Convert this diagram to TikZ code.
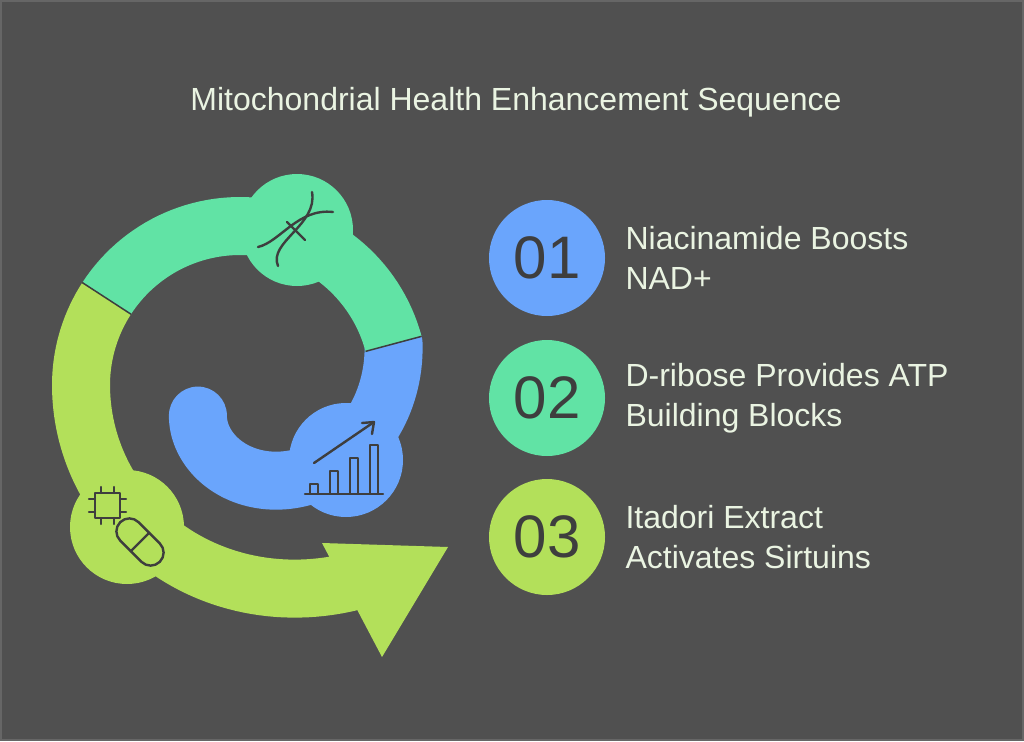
\documentclass[tikz,border=0pt]{standalone}
\usepackage{fontspec}
\setmainfont{Liberation Sans}
\definecolor{bg}{HTML}{505050}
\definecolor{cblue}{HTML}{6AA5FC}
\definecolor{cgreen}{HTML}{61E3A5}
\definecolor{clime}{HTML}{B3E05A}
\definecolor{ink}{HTML}{3E3E3E}
\definecolor{txt}{HTML}{EAF4E2}
\begin{document}
\begin{tikzpicture}[x=1pt,y=-1pt,
  icon/.style={draw=ink,line width=2.4pt,line cap=round,line join=round},
  numc/.style={circle,minimum size=116pt,inner sep=0pt,text=ink,font=\fontsize{60}{60}\selectfont},
  lbl/.style={anchor=west,align=left,text=txt,font=\fontsize{32}{40}\selectfont}]
\fill[bg] (0,0) rectangle (1024,741);
\draw[black!60,line width=2pt] (1,1) rectangle (1023,740);
\node[text=txt,font=\fontsize{32}{32}\selectfont] (title) at (516,102) {Mitochondrial Health Enhancement Sequence};
% spiral
\draw[clime,line width=58pt] plot[domain=147:302,samples=80] ({240+(159+0.0047*max(\x-180,0)*max(\x-180,0))*cos(\x)},{385-(159+0.0047*max(\x-180,0)*max(\x-180,0))*sin(\x)});
\fill[clime] (322,543) -- (448,547) -- (382,657) -- cycle;
\draw[cblue,line width=58pt,line cap=round] plot[domain=15:-144,samples=80] ({240+(159-(15-\x)/162*109)*cos(\x)},{385-(159-(15-\x)/162*109)*sin(\x)});
\draw[cgreen,line width=58pt] plot[domain=15:147,samples=60] ({240+159*cos(\x)},{385-159*sin(\x)});
\draw[ink,line width=1.5pt] ({240+130*cos(15)},{385-130*sin(15)}) -- ({240+188*cos(15)},{385-188*sin(15)});
\draw[ink,line width=1.5pt] ({240+130*cos(147)},{385-130*sin(147)}) -- ({240+188*cos(147)},{385-188*sin(147)});
\fill[cgreen] (297,230) circle (56);
\fill[cblue] (346,460) circle (57);
\fill[clime] (127,527) circle (57);
% DNA icon
\draw[icon] (258,247) .. controls (280,242) and (298,208) .. (333,212);
\draw[icon] (278,266) .. controls (268,242) and (318,225) .. (312,192);
\draw[icon] (287,222) -- (305,240);
% chart icon
\draw[icon] (305,494) -- (383,494);
\draw[icon] (310,494) rectangle (318,484);
\draw[icon] (330,494) rectangle (338,471);
\draw[icon] (350,494) rectangle (358,458);
\draw[icon] (370,494) rectangle (378,445);
\draw[icon] (314,463) -- (374,422);
\draw[icon] (362,423) -- (374,422) -- (372,434);
% chip icon
\draw[icon] (95,493) rectangle (120,518);
\foreach \t in {101,114}{
  \draw[icon] (\t,493) -- (\t,487); \draw[icon] (\t,518) -- (\t,524);}
\foreach \t in {499,512}{
  \draw[icon] (95,\t) -- (89,\t); \draw[icon] (120,\t) -- (126,\t);}
% pill icon
\begin{scope}[shift={(140,542)},rotate=-45]
\draw[icon,rounded corners=13pt] (-28,-13) rectangle (28,13);
\draw[icon] (0,-13) -- (0,13);
\end{scope}
% legend
\node[numc,fill=cblue] (n1) at (547,258) {01};
\node[numc,fill=cgreen] (n2) at (547,398) {02};
\node[numc,fill=clime] (n3) at (547,537) {03};
\node[lbl] (l1) at (622,258) {Niacinamide Boosts\\NAD+};
\node[lbl] (l2) at (622,398) {D-ribose Provides ATP\\Building Blocks};
\node[lbl] (l3) at (622,537) {Itadori Extract\\Activates Sirtuins};
\end{tikzpicture}
\end{document}
